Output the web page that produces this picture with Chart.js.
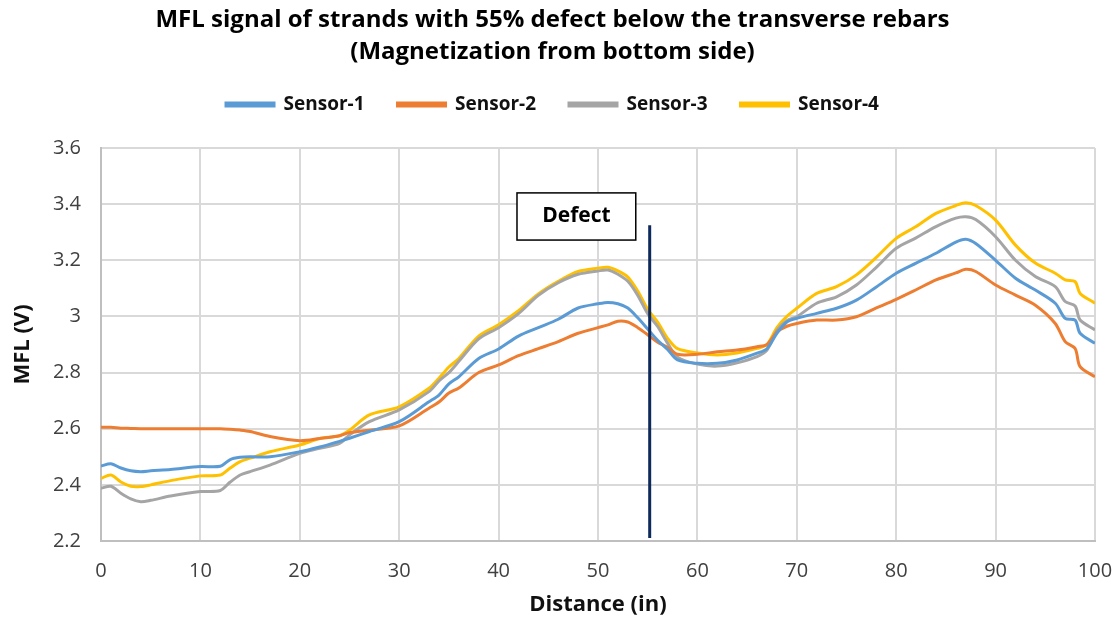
<!DOCTYPE html>
<html>
<head>
<meta charset="utf-8">
<script src="https://cdn.jsdelivr.net/npm/chart.js@4"></script>
<style>
  html, body { margin: 0; padding: 0; background: #fff; }
  #wrap { width: 1118px; height: 620px; }
</style>
</head>
<body>
<div id="wrap"><canvas id="mfl-chart"></canvas></div>
<script>
// ====== Data
const distance = [0, 1, 2, 3, 4, 5, 7, 10, 12, 13, 14, 15, 17, 20, 22, 24, 25, 27, 30, 33, 34, 35, 36, 38, 40, 42, 44, 46, 48, 50, 51, 52, 53, 54, 55, 56, 57, 58, 60, 62, 64, 66, 67, 68, 69, 70, 72, 74, 76, 78, 80, 82, 84, 86, 87, 88, 90, 92, 94, 96, 97, 98, 98.5, 100];

const sensor1 = [2.467, 2.475, 2.46, 2.45, 2.447, 2.45, 2.455, 2.465, 2.466, 2.49, 2.498, 2.5, 2.5, 2.518, 2.535, 2.555, 2.566, 2.59, 2.625, 2.696, 2.72, 2.76, 2.785, 2.85, 2.884, 2.93, 2.96, 2.99, 3.03, 3.045, 3.05, 3.045, 3.03, 2.995, 2.955, 2.915, 2.882, 2.845, 2.833, 2.833, 2.845, 2.869, 2.885, 2.94, 2.98, 2.993, 3.011, 3.029, 3.058, 3.105, 3.154, 3.19, 3.225, 3.265, 3.275, 3.26, 3.2, 3.136, 3.094, 3.047, 2.993, 2.987, 2.94, 2.904];

const sensor2 = [2.605, 2.605, 2.602, 2.601, 2.6, 2.6, 2.6, 2.6, 2.6, 2.598, 2.595, 2.59, 2.572, 2.557, 2.565, 2.575, 2.586, 2.595, 2.61, 2.673, 2.695, 2.727, 2.745, 2.8, 2.827, 2.86, 2.885, 2.91, 2.94, 2.96, 2.97, 2.983, 2.98, 2.96, 2.935, 2.908, 2.89, 2.865, 2.865, 2.874, 2.88, 2.892, 2.9, 2.945, 2.965, 2.975, 2.987, 2.987, 2.999, 3.03, 3.061, 3.095, 3.13, 3.155, 3.168, 3.16, 3.112, 3.076, 3.04, 2.975, 2.91, 2.886, 2.821, 2.785];

const sensor3 = [2.388, 2.395, 2.37, 2.35, 2.34, 2.345, 2.36, 2.376, 2.38, 2.41, 2.435, 2.447, 2.47, 2.512, 2.53, 2.548, 2.578, 2.625, 2.667, 2.732, 2.77, 2.8, 2.84, 2.92, 2.96, 3.01, 3.075, 3.12, 3.15, 3.162, 3.165, 3.15, 3.125, 3.075, 3.01, 2.964, 2.905, 2.855, 2.83, 2.823, 2.835, 2.857, 2.88, 2.95, 2.985, 2.999, 3.047, 3.07, 3.112, 3.175, 3.243, 3.28, 3.32, 3.35, 3.355, 3.345, 3.284, 3.2, 3.142, 3.106, 3.053, 3.037, 2.987, 2.952];

const sensor4 = [2.423, 2.435, 2.41, 2.395, 2.394, 2.4, 2.415, 2.432, 2.435, 2.46, 2.483, 2.495, 2.518, 2.542, 2.565, 2.575, 2.595, 2.649, 2.678, 2.744, 2.78, 2.82, 2.85, 2.93, 2.97, 3.02, 3.08, 3.125, 3.16, 3.172, 3.175, 3.162, 3.14, 3.09, 3.025, 2.98, 2.922, 2.885, 2.87, 2.863, 2.87, 2.886, 2.9, 2.96, 3.0, 3.029, 3.082, 3.106, 3.148, 3.21, 3.278, 3.32, 3.367, 3.395, 3.405, 3.395, 3.343, 3.254, 3.19, 3.154, 3.13, 3.124, 3.082, 3.047];

const seriesNames = ["Sensor-1", "Sensor-2", "Sensor-3", "Sensor-4"];
const seriesColors = ["#5B9BD5", "#ED7D31", "#A5A5A5", "#FFC000"];

// defect marker (data coords)
const defectX = 55.2;
const defectTop = 3.325;
const defectLabel = "Defect";
const defectBox = { x0: 41.85, x1: 53.8, y0: 3.44, y1: 3.272 };

const FONT = "'Open Sans', 'DejaVu Sans', sans-serif";

// ====== Plugin: legend placement (room below it, nudged up a bit)
const legendSpacer = {
  id: "legendSpacer",
  beforeInit: (chart) => {
    const fit = chart.legend.fit;
    chart.legend.fit = function () {
      fit.bind(chart.legend)();
      this.height += 14;
    };
  },
  afterLayout: (chart) => {
    chart.legend.top -= 10;
    chart.legend.bottom -= 10;
  },
};

// ====== Plugin: defect line + label box
const defectPlugin = {
  id: "defectMarker",
  afterDatasetsDraw: (chart) => {
    const { ctx, scales } = chart;
    const x = scales.x.getPixelForValue(defectX);
    ctx.save();
    ctx.strokeStyle = "#0E2A5C";
    ctx.lineWidth = 3;
    ctx.beginPath();
    ctx.moveTo(x, scales.y.getPixelForValue(defectTop));
    ctx.lineTo(x, scales.y.getPixelForValue(2.2) - 3);
    ctx.stroke();

    const bx0 = scales.x.getPixelForValue(defectBox.x0);
    const bx1 = scales.x.getPixelForValue(defectBox.x1);
    const by0 = scales.y.getPixelForValue(defectBox.y0);
    const by1 = scales.y.getPixelForValue(defectBox.y1);
    ctx.fillStyle = "#fff";
    ctx.fillRect(bx0, by0, bx1 - bx0, by1 - by0);
    ctx.strokeStyle = "#000";
    ctx.lineWidth = 1.5;
    ctx.strokeRect(bx0, by0, bx1 - bx0, by1 - by0);
    ctx.fillStyle = "#000";
    ctx.font = `bold 21px ${FONT}`;
    ctx.textAlign = "center";
    ctx.textBaseline = "middle";
    ctx.fillText(defectLabel, (bx0 + bx1) / 2, (by0 + by1) / 2);
    ctx.restore();
  },
};

const toPoints = (ys) => distance.map((d, i) => ({ x: d, y: ys[i] }));
const allSeries = [sensor1, sensor2, sensor3, sensor4];

new Chart(document.getElementById("mfl-chart"), {
  type: "line",
  data: {
    datasets: allSeries.map((ys, i) => ({
      label: seriesNames[i],
      data: toPoints(ys),
      borderColor: seriesColors[i],
      backgroundColor: seriesColors[i],
      borderWidth: 3,
      pointRadius: 0,
      tension: 0.3,
    })),
  },
  options: {
    responsive: true,
    maintainAspectRatio: false,
    animation: false,
    layout: { padding: { left: 10, right: 23, top: 4, bottom: 2 } },
    plugins: {
      tooltip: { enabled: false },
      title: {
        display: true,
        text: [
          "MFL signal of strands with 55% defect below the transverse rebars",
          "(Magnetization from bottom side)",
        ],
        color: "#000",
        font: { family: FONT, size: 24, weight: "bold", lineHeight: 1.333 },
        padding: { top: 0, bottom: 4 },
      },
      legend: {
        position: "top",
        labels: {
          color: "#111",
          font: { family: FONT, size: 19, weight: "bold" },
          boxWidth: 48,
          boxHeight: 3,
          padding: 33,
        },
      },
    },
    scales: {
      x: {
        type: "linear",
        min: 0,
        max: 100,
        afterFit: (axis) => {
          axis.height = 77;
          axis.paddingLeft = 0;
          axis.paddingRight = 0;
        },
        ticks: { stepSize: 10, color: "#404040", font: { family: FONT, size: 20 }, padding: 18 },
        grid: { color: "#d9d9d9", lineWidth: 2, drawTicks: false },
        border: { color: "#bfbfbf", width: 2 },
        title: {
          display: true,
          text: "Distance (in)",
          color: "#111",
          font: { family: FONT, size: 22, weight: "bold" },
          padding: { top: 8, bottom: 0 },
        },
      },
      y: {
        min: 2.2,
        max: 3.6,
        afterFit: (axis) => { axis.width = 91; },
        ticks: {
          stepSize: 0.2,
          color: "#404040",
          font: { family: FONT, size: 20 },
          padding: 20,
          callback: (v) => Number(v.toFixed(1)).toString(),
        },
        grid: { color: "#d9d9d9", lineWidth: 2, drawTicks: false },
        border: { color: "#bfbfbf", width: 2 },
        title: {
          display: true,
          text: "MFL (V)",
          color: "#111",
          font: { family: FONT, size: 22, weight: "bold" },
          padding: { top: 0, bottom: 10 },
        },
      },
    },
  },
  plugins: [defectPlugin, legendSpacer],
});
</script>
</body>
</html>
